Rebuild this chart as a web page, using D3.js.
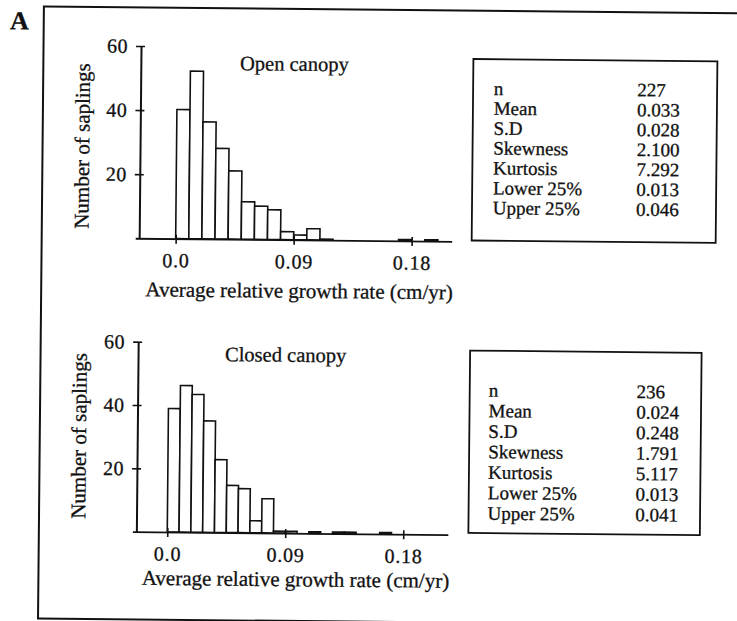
<!DOCTYPE html>
<html>
<head>
<meta charset="utf-8">
<script src="https://cdn.jsdelivr.net/npm/d3@7/dist/d3.min.js"></script>
<style>
  html, body { margin: 0; padding: 0; background: #fff; }
  svg { display: block; }
  text { font-family: "Liberation Serif", "DejaVu Serif", serif; fill: #111; stroke: #111; stroke-width: 0.3px; }
</style>
</head>
<body>
<svg id="chart" width="737" height="621"></svg>
<script>
// ---------- data ----------
const panelTitles = ["Open canopy", "Closed canopy"];
const binWidths = [0.01, 0.009];
const openCounts = [40.3, 52.3, 36.5, 28.3, 21.3, 11.7, 10.4, 9.3, 2.5, 1.5, 3.5, 0.3, 0, 0, 0, 0, 0, 0.4, 0, 0.4];
const closedCounts = [39, 46.3, 43.5, 35.2, 23, 14.9, 13.9, 3.8, 10.8, 0.6, 0.6, 0, 0.5, 0, 0.5, 0.5, 0, 0, 0.5];
const xTickValues = [0.0, 0.09, 0.18];
const xTickLabels = ["0.0", "0.09", "0.18"];
const yTickValues = [20, 40, 60];
const statNames = ["n", "Mean", "S.D", "Skewness", "Kurtosis", "Lower 25%", "Upper 25%"];
const openStats = ["227", "0.033", "0.028", "2.100", "7.292", "0.013", "0.046"];
const closedStats = ["236", "0.024", "0.248", "1.791", "5.117", "0.013", "0.041"];
const xLabel = "Average relative growth rate (cm/yr)";
const yLabel = "Number of saplings";
const panelLetter = "A";

// ---------- layout ----------
const panels = [
  { counts: openCounts, stats: openStats, title: panelTitles[0], bw: binWidths[0],
    axisX: 138.5, x0: 175, x18: 411, xEnd: 451, y0: 240.5, y60: 48.2,
    titleX: 237.7, titleY: 71.4, xlabX: 298.9, xlabY: 298.5, ylabX: 87.7, ylabY: 148.7,
    box: { x: 471, y: 58, w: 244, h: 181.5, lx: 491.8, vx: 635.2, by: 93.7, dy: 19.9 } },
  { counts: closedCounts, stats: closedStats, title: panelTitles[1], bw: binWidths[1],
    axisX: 138.5, x0: 169.4, x18: 405.4, xEnd: 450, y0: 533.9, y60: 343.9,
    titleX: 225.5, titleY: 362.5, xlabX: 298.1, xlabY: 587, ylabX: 87.2, ylabY: 438.7,
    box: { x: 470.5, y: 349.6, w: 231.5, h: 182.4, lx: 489.6, vx: 637.3, by: 395.5, dy: 20.5 } }
];

const svg = d3.select("#chart");
const root = svg.append("g").attr("transform", "rotate(0.55, 368, 310)");

// outer frame
root.append("rect")
  .attr("x", 41).attr("y", 9.7).attr("width", 740).attr("height", 612)
  .attr("fill", "none").attr("stroke", "#111").attr("stroke-width", 2);

root.append("text")
  .attr("x", 7.3).attr("y", 32.6)
  .attr("font-size", 26).attr("font-weight", "bold")
  .text(panelLetter);

panels.forEach(p => {
  const g = root.append("g");
  const xBase = d3.scaleLinear().domain([0, 0.18]).range([p.x0, p.x18]);
  const x = d3.scaleLinear()
    .domain([xBase.invert(p.axisX - 4), xBase.invert(p.xEnd)])
    .range([p.axisX - 4, p.xEnd]);
  const y = d3.scaleLinear().domain([0, 60]).range([p.y0, p.y60]);

  // bars
  const bins = p.counts.map((c, i) => ({ x0: i * p.bw, x1: (i + 1) * p.bw, c }));
  g.selectAll("rect.bar").data(bins.filter(d => d.c > 0)).join("rect")
    .attr("class", "bar")
    .attr("x", d => x(d.x0))
    .attr("width", d => x(d.x1) - x(d.x0))
    .attr("y", d => y(d.c))
    .attr("height", d => y(0) - y(d.c))
    .attr("fill", "#fff").attr("stroke", "#111").attr("stroke-width", 1.6);

  // x axis
  const xAxis = d3.axisBottom(x).tickValues(xTickValues)
    .tickFormat((d, i) => xTickLabels[i]).tickSizeInner(5).tickSizeOuter(0).tickPadding(9.5);
  const gx = g.append("g").attr("transform", `translate(0,${p.y0})`).call(xAxis);
  gx.select(".domain").attr("stroke", "#111").attr("stroke-width", 1.8);
  gx.selectAll(".tick line").attr("y1", -4).attr("y2", 5).attr("stroke", "#111").attr("stroke-width", 1.6);
  gx.selectAll(".tick text").attr("font-size", 20).attr("letter-spacing", 0.8)
    .attr("font-family", "Liberation Serif").attr("fill", "#111");

  // y axis
  const yAxis = d3.axisLeft(y).tickValues(yTickValues).tickSizeInner(5).tickSizeOuter(0).tickPadding(8);
  const gy = g.append("g").attr("transform", `translate(${p.axisX},0)`).call(yAxis);
  gy.select(".domain").attr("stroke", "#111").attr("stroke-width", 2);
  gy.selectAll(".tick line").attr("x1", 4).attr("x2", -5).attr("stroke", "#111").attr("stroke-width", 1.6);
  gy.selectAll(".tick text").attr("font-size", 20).attr("letter-spacing", 0.5)
    .attr("font-family", "Liberation Serif").attr("fill", "#111");

  // titles and labels
  g.append("text").attr("x", p.titleX).attr("y", p.titleY).attr("font-size", 20.5).text(p.title);
  g.append("text").attr("x", p.xlabX).attr("y", p.xlabY).attr("font-size", 21)
    .attr("text-anchor", "middle").text(xLabel);
  g.append("text").attr("transform", `translate(${p.ylabX},${p.ylabY}) rotate(-90)`)
    .attr("font-size", 21).attr("text-anchor", "middle").text(yLabel);

  // stats box
  const b = p.box;
  g.append("rect").attr("x", b.x).attr("y", b.y).attr("width", b.w).attr("height", b.h)
    .attr("fill", "#fff").attr("stroke", "#111").attr("stroke-width", 1.8);
  g.selectAll("text.sname").data(statNames).join("text").attr("class", "sname")
    .attr("x", b.lx).attr("y", (d, i) => b.by + i * b.dy)
    .attr("font-size", 19).text(d => d);
  g.selectAll("text.sval").data(p.stats).join("text").attr("class", "sval")
    .attr("x", b.vx).attr("y", (d, i) => b.by + i * b.dy)
    .attr("font-size", 19).text(d => d);
});
</script>
</body>
</html>
